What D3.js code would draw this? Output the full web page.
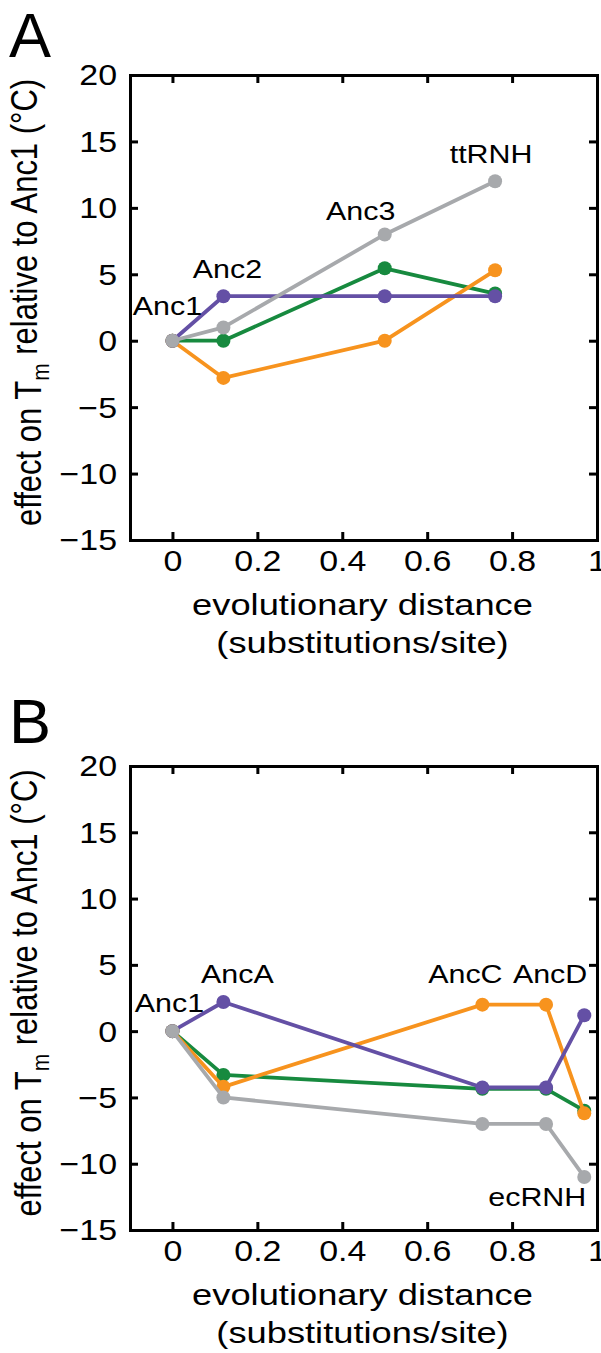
<!DOCTYPE html>
<html>
<head>
<meta charset="utf-8">
<script src="https://cdn.jsdelivr.net/npm/d3@7"></script>
<style>
  body { margin: 0; background: #fff; }
  svg text { font-family: "Liberation Sans", Arial, Helvetica, sans-serif; fill: #000; }
</style>
</head>
<body>
<div id="chart"></div>
<script>
// ---- data ----
const xTicks = [0, 0.2, 0.4, 0.6, 0.8, 1];
const yTicks = [-15, -10, -5, 0, 5, 10, 15, 20];

// panel A: Anc1 -> Anc2 -> Anc3 -> ttRNH
const distA = [0, 0.12, 0.5, 0.76];
const greenA = [0, 0, 5.45, 3.55];
const orangeA = [0, -2.8, 0, 5.3];
const purpleA = [0, 3.35, 3.35, 3.35];
const grayA = [0, 1, 8, 12];
const nodesA = ["Anc1", "Anc2", "Anc3", "ttRNH"];

// panel B: Anc1 -> AncA -> AncC -> AncD -> ecRNH
const distB = [0, 0.12, 0.73, 0.88, 0.97];
const greenB = [0, -3.3, -4.35, -4.35, -6.0];
const orangeB = [0, -4.2, 2.0, 2.0, -6.2];
const purpleB = [0, 2.2, -4.25, -4.25, 1.2];
const grayB = [0, -5, -7, -7, -11];
const nodesB = ["Anc1", "AncA", "AncC", "AncD", "ecRNH"];

const colors = { green: "#178a3f", orange: "#f7931e", purple: "#6450a5", gray: "#a7a9ac" };

// ---- layout ----
const W = 601, H = 1353;
const sx = 1.17; // the figure's text is a bit wide
const font = "Liberation Sans, Arial, Helvetica, sans-serif";

const svg = d3.select("#chart").append("svg")
  .attr("width", W).attr("height", H);

const x = d3.scaleLinear().domain([-0.1, 1.0]).range([130, 597]);

const panels = [
  {
    letter: "A", letterY: 57, top: 75, bottom: 540,
    dist: distA, nodes: nodesA,
    series: [["green", greenA], ["orange", orangeA], ["purple", purpleA], ["gray", grayA]],
    // which series each node label sits on, plus pixel nudges
    labels: [
      { i: 0, s: grayA, dx: -5, dy: -26, anchor: "middle" },
      { i: 1, s: purpleA, dx: 4, dy: -18, anchor: "middle" },
      { i: 2, s: grayA, dx: -24, dy: -14, anchor: "middle" },
      { i: 3, s: grayA, dx: -4, dy: -18, anchor: "middle" }
    ]
  },
  {
    letter: "B", letterY: 743, top: 766, bottom: 1230,
    dist: distB, nodes: nodesB,
    series: [["green", greenB], ["orange", orangeB], ["purple", purpleB], ["gray", grayB]],
    labels: [
      { i: 0, s: grayB, dx: -3, dy: -19, anchor: "middle" },
      { i: 1, s: purpleB, dx: 14, dy: -19, anchor: "middle" },
      { i: 2, s: orangeB, dx: -17, dy: -22, anchor: "middle" },
      { i: 3, s: orangeB, dx: 4, dy: -22, anchor: "middle" },
      { i: 4, s: grayB, dx: 2, dy: 29, anchor: "end" }
    ]
  }
];

panels.forEach((p) => {
  const y = d3.scaleLinear().domain([-15, 20]).range([p.bottom, p.top]);
  const g = svg.append("g");

  // panel letter
  svg.append("text")
    .attr("x", 9).attr("y", p.letterY)
    .style("font-size", "63px")
    .text(p.letter);

  // axes: inward ticks on all four sides, labels on left and bottom
  const axB = g.append("g").attr("transform", `translate(0,${p.bottom})`)
    .call(d3.axisBottom(x).tickValues(xTicks).tickSizeInner(-8).tickSizeOuter(0).tickFormat(d3.format("")));
  const axT = g.append("g").attr("transform", `translate(0,${p.top})`)
    .call(d3.axisTop(x).tickValues(xTicks).tickSizeInner(-8).tickSizeOuter(0).tickFormat(""));
  const axL = g.append("g").attr("transform", `translate(${x.range()[0]},0)`)
    .call(d3.axisLeft(y).tickValues(yTicks).tickSizeInner(-8).tickSizeOuter(0));
  const axR = g.append("g").attr("transform", `translate(${x.range()[1]},0)`)
    .call(d3.axisRight(y).tickValues(yTicks).tickSizeInner(-8).tickSizeOuter(0).tickFormat(""));

  [axB, axT, axL, axR].forEach((a) => {
    a.select(".domain").attr("stroke", "#000").attr("stroke-width", 3).attr("stroke-linecap", "square");
    a.selectAll(".tick line").attr("stroke", "#000").attr("stroke-width", 3);
    a.selectAll("text").attr("font-family", font).attr("font-size", 29).attr("fill", "#000");
  });
  axB.selectAll(".tick text")
    .attr("y", 0).attr("dy", 0)
    .attr("transform", `translate(0,31) scale(${sx},1)`);
  axL.selectAll(".tick text")
    .attr("x", 0).attr("dy", "0.34em")
    .attr("transform", `translate(-13,0) scale(${sx},1)`);

  // axis titles
  const xt = svg.append("text")
    .attr("text-anchor", "middle")
    .style("font-size", "30px")
    .attr("transform", `translate(${(x.range()[0] + x.range()[1]) / 2 - 1},${p.bottom + 75}) scale(${sx + 0.04},1)`);
  xt.append("tspan").attr("x", 0).attr("y", 0).text("evolutionary distance");
  xt.append("tspan").attr("x", 0).attr("y", 38).text("(substitutions/site)");

  const yt = svg.append("text")
    .attr("text-anchor", "middle")
    .style("font-size", "31px")
    .attr("transform", `translate(41,${(p.top + p.bottom) / 2 - 5}) scale(${sx},1) rotate(-90)`);
  yt.append("tspan").text("effect on T");
  yt.append("tspan").attr("dy", "0.34em").style("font-size", "21px").text("m");
  yt.append("tspan").attr("dy", "-0.34em").text(" relative to Anc1 (°C)");

  // series: lines then dots
  const line = d3.line().x((d) => x(d[0])).y((d) => y(d[1]));
  p.series.forEach(([name, vals]) => {
    const pts = p.dist.map((d, i) => [d, vals[i]]);
    const sg = g.append("g");
    sg.append("path")
      .datum(pts)
      .attr("d", line)
      .attr("fill", "none")
      .attr("stroke", colors[name])
      .attr("stroke-width", 3.8)
      .attr("stroke-linejoin", "round");
    sg.selectAll("circle")
      .data(pts)
      .enter()
      .append("circle")
      .attr("cx", (d) => x(d[0]))
      .attr("cy", (d) => y(d[1]))
      .attr("r", 7)
      .attr("fill", colors[name]);
  });

  // node labels
  p.labels.forEach((l) => {
    svg.append("text")
      .attr("text-anchor", l.anchor)
      .style("font-size", "26px")
      .attr("transform", `translate(${x(p.dist[l.i]) + l.dx},${y(l.s[l.i]) + l.dy}) scale(${sx},1)`)
      .text(p.nodes[l.i]);
  });
});
</script>
</body>
</html>
